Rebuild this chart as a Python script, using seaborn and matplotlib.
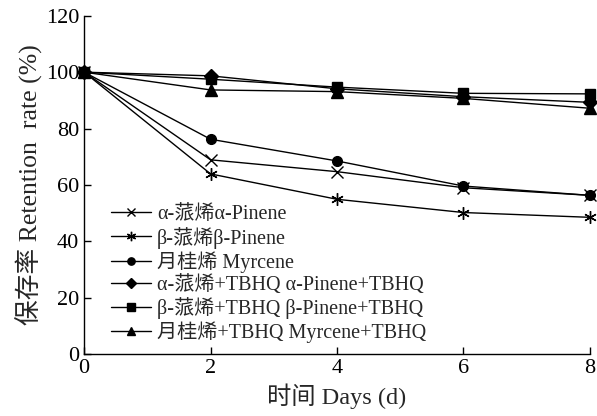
import matplotlib
matplotlib.use("Agg")
import matplotlib.pyplot as plt
import seaborn as sns
import pandas as pd

days = [0, 2, 4, 6, 8]
series_names = [
    "α-蒎烯α-Pinene",
    "β-蒎烯β-Pinene",
    "月桂烯 Myrcene",
    "α-蒎烯+TBHQ α-Pinene+TBHQ",
    "β-蒎烯+TBHQ β-Pinene+TBHQ",
    "月桂烯+TBHQ Myrcene+TBHQ",
]
a_pinene = [100, 68.9, 64.7, 59.0, 56.3]
b_pinene = [100, 63.9, 54.9, 50.2, 48.5]
myrcene = [100, 76.2, 68.5, 59.6, 56.3]
a_pinene_tbhq = [100, 98.7, 94.1, 91.3, 89.3]
b_pinene_tbhq = [100, 97.5, 94.7, 92.5, 92.3]
myrcene_tbhq = [100, 93.7, 93.1, 90.7, 87.2]
all_vals = [a_pinene, b_pinene, myrcene, a_pinene_tbhq, b_pinene_tbhq, myrcene_tbhq]

rows = []
for name, vals in zip(series_names, all_vals):
    for d, v in zip(days, vals):
        rows.append({"day": d, "value": v, "series": name})
df = pd.DataFrame(rows)

sns.set_style("ticks")
plt.rcParams['font.family'] = ['Liberation Serif', 'Noto Sans CJK SC']

fig = plt.figure(figsize=(5.97, 4.16), dpi=100)
ax = fig.add_axes([0.141, 0.149, 0.847, 0.813])

markers = ['x', (6, 2, 0), 'o', 'D', 's', '^']
sizes = [8, 9, 7, 7, 7, 8]
for i, name in enumerate(series_names):
    sub = df[df.series == name]
    sns.lineplot(data=sub, x="day", y="value", ax=ax, color="black",
                 marker=markers[i], markersize=sizes[i], markeredgewidth=1.0,
                 markeredgecolor='black', markerfacecolor='black',
                 linewidth=1.0, label=name, clip_on=False, zorder=3)

ax.set_xlim(0, 8)
ax.set_ylim(0, 120)
ax.set_xticks([0, 2, 4, 6, 8])
ax.set_yticks([0, 20, 40, 60, 80, 100, 120])
ax.tick_params(direction='in', labelsize=16, length=5, width=1, colors='black')
for s in ['left', 'bottom']:
    ax.spines[s].set_linewidth(1.0)
    ax.spines[s].set_color('black')
sns.despine(ax=ax)
ax.set_xlabel("时间 Days (d)", fontsize=17.5, labelpad=4)
ax.set_ylabel("保存率 Retention  rate (%)", fontsize=18.5, labelpad=2)

leg = ax.legend(loc='lower left', bbox_to_anchor=(0.025, -0.01), frameon=False,
                fontsize=14.5, handlelength=2.0, handletextpad=0.3,
                labelspacing=0.12, borderaxespad=0.3, markerscale=0.75)

fig.savefig("out.png", dpi=100)
